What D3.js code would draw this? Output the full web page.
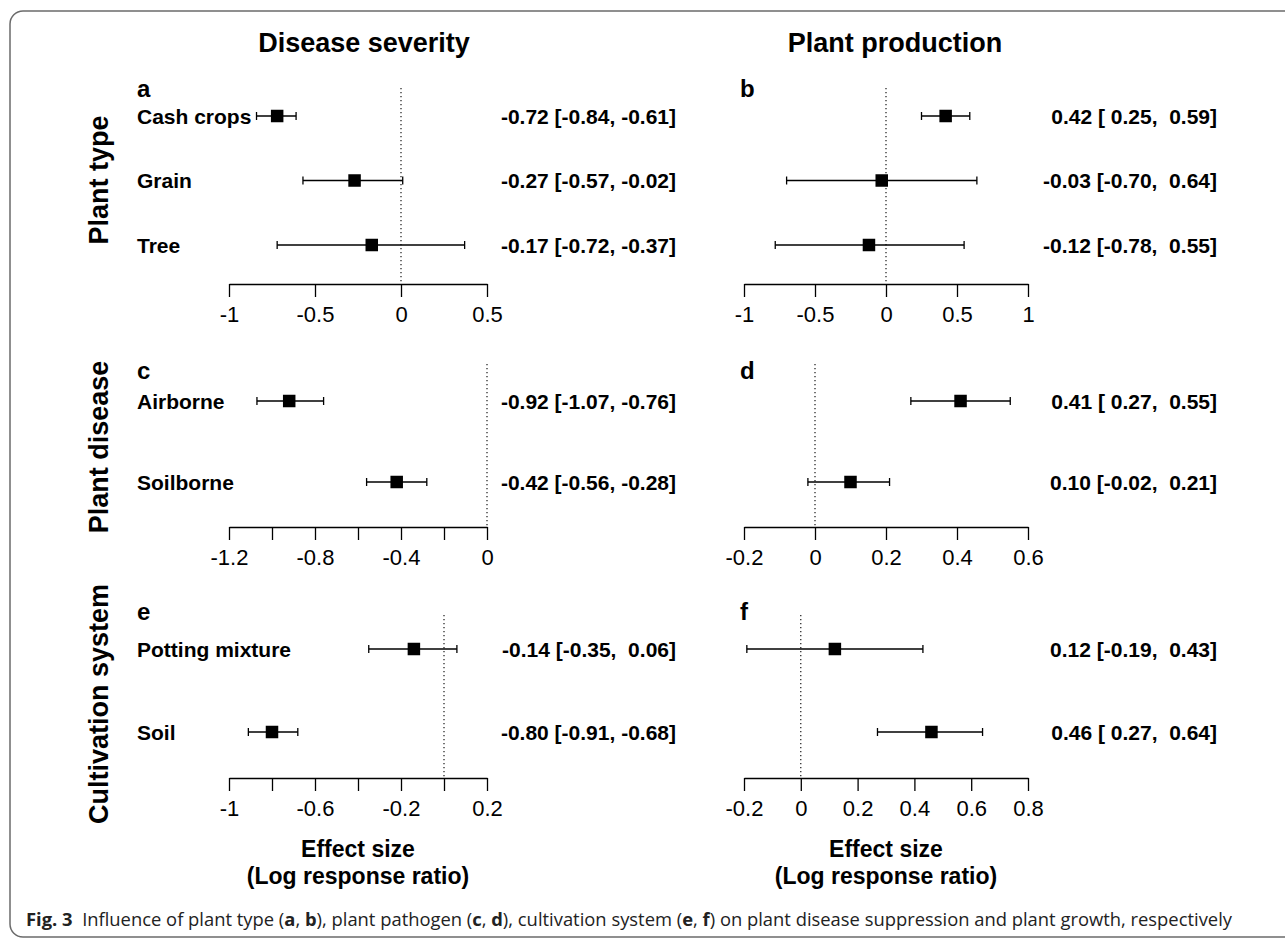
<!DOCTYPE html>
<html>
<head>
<meta charset="utf-8">
<script src="https://cdnjs.cloudflare.com/ajax/libs/d3/7.8.5/d3.min.js"></script>
<style>
  body { margin: 0; background: #fff; }
  svg { display: block; }
  text { font-family: "Liberation Sans", Arial, Helvetica, sans-serif; fill: #000; }
  .annot { white-space: pre; }
</style>
</head>
<body>
<svg id="chart" width="1285" height="940"></svg>
<script>
// ---- data ----
var colTitles = ["Disease severity", "Plant production"];
var rowTitles = ["Plant type", "Plant disease", "Cultivation system"];

var plantTypes = ["Cash crops", "Grain", "Tree"];
var pathogens = ["Airborne", "Soilborne"];
var systems = ["Potting mixture", "Soil"];

// disease severity ~ plant type (a)
var sevTypeEst = [-0.72, -0.27, -0.17];
var sevTypeLo = [-0.84, -0.57, -0.72];
var sevTypeHi = [-0.61, 0.01, 0.37];
var sevTypeText = ["-0.72 [-0.84, -0.61]", "-0.27 [-0.57, -0.02]", "-0.17 [-0.72, -0.37]"];

// plant production ~ plant type (b)
var prodTypeEst = [0.42, -0.03, -0.12];
var prodTypeLo = [0.25, -0.70, -0.78];
var prodTypeHi = [0.59, 0.64, 0.55];
var prodTypeText = ["0.42 [ 0.25,  0.59]", "-0.03 [-0.70,  0.64]", "-0.12 [-0.78,  0.55]"];

// disease severity ~ pathogen (c)
var sevPathEst = [-0.92, -0.42];
var sevPathLo = [-1.07, -0.56];
var sevPathHi = [-0.76, -0.28];
var sevPathText = ["-0.92 [-1.07, -0.76]", "-0.42 [-0.56, -0.28]"];

// plant production ~ pathogen (d)
var prodPathEst = [0.41, 0.10];
var prodPathLo = [0.27, -0.02];
var prodPathHi = [0.55, 0.21];
var prodPathText = ["0.41 [ 0.27,  0.55]", "0.10 [-0.02,  0.21]"];

// disease severity ~ cultivation system (e)
var sevSysEst = [-0.14, -0.80];
var sevSysLo = [-0.35, -0.91];
var sevSysHi = [0.06, -0.68];
var sevSysText = ["-0.14 [-0.35,  0.06]", "-0.80 [-0.91, -0.68]"];

// plant production ~ cultivation system (f)
var prodSysEst = [0.12, 0.46];
var prodSysLo = [-0.19, 0.27];
var prodSysHi = [0.43, 0.64];
var prodSysText = ["0.12 [-0.19,  0.43]", "0.46 [ 0.27,  0.64]"];

// axis ticks and which of them carry a label
var ticksA = [-1, -0.5, 0, 0.5], labelsA = [-1, -0.5, 0, 0.5];
var ticksB = [-1, -0.5, 0, 0.5, 1], labelsB = [-1, -0.5, 0, 0.5, 1];
var ticksC = [-1.2, -1, -0.8, -0.6, -0.4, -0.2, 0], labelsC = [-1.2, -0.8, -0.4, 0];
var ticksD = [-0.2, 0, 0.2, 0.4, 0.6], labelsD = [-0.2, 0, 0.2, 0.4, 0.6];
var ticksE = [-1, -0.8, -0.6, -0.4, -0.2, 0, 0.2], labelsE = [-1, -0.6, -0.2, 0.2];
var ticksF = [-0.2, 0, 0.2, 0.4, 0.6, 0.8], labelsF = [-0.2, 0, 0.2, 0.4, 0.6, 0.8];

var captionBits = [
  ["Fig. 3", true], ["  Influence of plant type (", false], ["a", true], [", ", false], ["b", true],
  ["), plant pathogen (", false], ["c", true], [", ", false], ["d", true],
  ["), cultivation system (", false], ["e", true], [", ", false], ["f", true],
  [") on plant disease suppression and plant growth, respectively", false]
];

// ---- layout ----
var svg = d3.select("#chart");
var cols = [
  {x0: 229, x1: 487, label: 137, text: 676, letter: 137, title: 364, xlab: 358},
  {x0: 744, x1: 1028, label: 137, text: 1217, letter: 740, title: 895, xlab: 886}
];
var blocks = [
  {first: 116, last: 245, axis: 284, top: 88, letter: 97, title: 180},
  {first: 401, last: 482, axis: 527, top: 364, letter: 379, title: 447},
  {first: 649, last: 732, axis: 778, top: 615, letter: 620, title: 704}
];

var panels = [
  {id: "a", col: 0, row: 0, cats: plantTypes, est: sevTypeEst, lo: sevTypeLo, hi: sevTypeHi, txt: sevTypeText, dom: [-1, 0.5], ticks: ticksA, labs: labelsA},
  {id: "b", col: 1, row: 0, cats: plantTypes, est: prodTypeEst, lo: prodTypeLo, hi: prodTypeHi, txt: prodTypeText, dom: [-1, 1], ticks: ticksB, labs: labelsB},
  {id: "c", col: 0, row: 1, cats: pathogens, est: sevPathEst, lo: sevPathLo, hi: sevPathHi, txt: sevPathText, dom: [-1.2, 0], ticks: ticksC, labs: labelsC},
  {id: "d", col: 1, row: 1, cats: pathogens, est: prodPathEst, lo: prodPathLo, hi: prodPathHi, txt: prodPathText, dom: [-0.2, 0.6], ticks: ticksD, labs: labelsD},
  {id: "e", col: 0, row: 2, cats: systems, est: sevSysEst, lo: sevSysLo, hi: sevSysHi, txt: sevSysText, dom: [-1, 0.2], ticks: ticksE, labs: labelsE},
  {id: "f", col: 1, row: 2, cats: systems, est: prodSysEst, lo: prodSysLo, hi: prodSysHi, txt: prodSysText, dom: [-0.2, 0.8], ticks: ticksF, labs: labelsF}
];

// frame
svg.append("rect")
  .attr("x", 10).attr("y", 11).attr("width", 1310).attr("height", 926)
  .attr("rx", 13).attr("fill", "none").attr("stroke", "#6b6b6b").attr("stroke-width", 1.5);

// column and row titles
colTitles.forEach(function(t, i) {
  svg.append("text")
    .attr("x", cols[i].title).attr("y", 43)
    .attr("text-anchor", "middle").attr("dominant-baseline", "central")
    .style("font-size", "27px").style("font-weight", "bold")
    .text(t);
});
rowTitles.forEach(function(t, i) {
  svg.append("text")
    .attr("transform", "translate(99," + blocks[i].title + ") rotate(-90)")
    .attr("text-anchor", "middle").attr("dominant-baseline", "central")
    .style("font-size", "27px").style("font-weight", "bold")
    .text(t);
});

var sq = 12.5, cap = 4;

panels.forEach(function(p) {
  var c = cols[p.col], b = blocks[p.row];
  var x = d3.scaleLinear().domain(p.dom).range([c.x0, c.x1]);
  var y = d3.scalePoint().domain(p.cats).range([b.first, b.last]);
  var g = svg.append("g").attr("class", "panel-" + p.id);

  g.append("text")
    .attr("x", c.letter).attr("y", b.letter)
    .style("font-size", "24px").style("font-weight", "bold")
    .text(p.id);

  // null line
  g.append("line")
    .attr("x1", x(0)).attr("x2", x(0)).attr("y1", b.top).attr("y2", b.axis)
    .attr("stroke", "#000").attr("stroke-width", 1.1).attr("stroke-dasharray", "1.3,2.7");

  var rows = p.cats.map(function(k, i) {
    return {cat: k, est: p.est[i], lo: p.lo[i], hi: p.hi[i], txt: p.txt[i]};
  });

  // category names only in the left column
  if (p.col === 0) {
    g.selectAll("text.cat").data(rows).enter().append("text")
      .attr("class", "cat")
      .attr("x", c.label).attr("y", function(d) { return y(d.cat); })
      .attr("dominant-baseline", "central")
      .style("font-size", "21px").style("font-weight", "bold")
      .text(function(d) { return d.cat; });
  }

  var r = g.selectAll("g.row").data(rows).enter().append("g").attr("class", "row");
  r.append("line")
    .attr("x1", function(d) { return x(d.lo); }).attr("x2", function(d) { return x(d.hi); })
    .attr("y1", function(d) { return y(d.cat); }).attr("y2", function(d) { return y(d.cat); })
    .attr("stroke", "#000").attr("stroke-width", 1.3);
  ["lo", "hi"].forEach(function(k) {
    r.append("line")
      .attr("x1", function(d) { return x(d[k]); }).attr("x2", function(d) { return x(d[k]); })
      .attr("y1", function(d) { return y(d.cat) - cap; }).attr("y2", function(d) { return y(d.cat) + cap; })
      .attr("stroke", "#000").attr("stroke-width", 1.3);
  });
  r.append("rect")
    .attr("x", function(d) { return x(d.est) - sq / 2; })
    .attr("y", function(d) { return y(d.cat) - sq / 2; })
    .attr("width", sq).attr("height", sq).attr("fill", "#000");
  r.append("text")
    .attr("class", "annot")
    .attr("x", c.text).attr("y", function(d) { return y(d.cat); })
    .attr("text-anchor", "end").attr("dominant-baseline", "central")
    .style("font-size", "21px").style("font-weight", "bold")
    .text(function(d) { return d.txt; });

  // x axis
  var ax = d3.axisBottom(x)
    .tickValues(p.ticks)
    .tickSize(13).tickSizeOuter(0).tickPadding(9)
    .tickFormat(function(v) {
      return p.labs.some(function(l) { return Math.abs(l - v) < 1e-9; }) ? String(+v.toFixed(2)) : "";
    });
  var ag = g.append("g").attr("transform", "translate(0," + b.axis + ")").call(ax);
  ag.select(".domain").attr("stroke", "#000").attr("stroke-width", 1.3);
  ag.selectAll(".tick line").attr("stroke", "#000").attr("stroke-width", 1.3);
  ag.selectAll(".tick text")
    .style("font-family", "'Liberation Sans', Arial, sans-serif")
    .style("font-size", "22px").attr("fill", "#000");
});

// x-axis titles under the bottom panels
cols.forEach(function(c) {
  var t = svg.append("text")
    .attr("x", c.xlab).attr("text-anchor", "middle")
    .style("font-size", "23px").style("font-weight", "bold");
  t.append("tspan").attr("x", c.xlab).attr("y", 857).text("Effect size");
  t.append("tspan").attr("x", c.xlab).attr("y", 884).text("(Log response ratio)");
});

// caption
var cap3 = svg.append("text")
  .attr("class", "annot")
  .attr("x", 26).attr("y", 926)
  .attr("textLength", 1206).attr("lengthAdjust", "spacingAndGlyphs")
  .style("font-family", "'Open Sans', 'Noto Sans', sans-serif")
  .style("font-size", "18px").attr("fill", "#222");
captionBits.forEach(function(bit) {
  cap3.append("tspan")
    .style("font-weight", bit[1] ? "bold" : "normal")
    .style("fill", "#222")
    .text(bit[0]);
});
</script>
</body>
</html>
